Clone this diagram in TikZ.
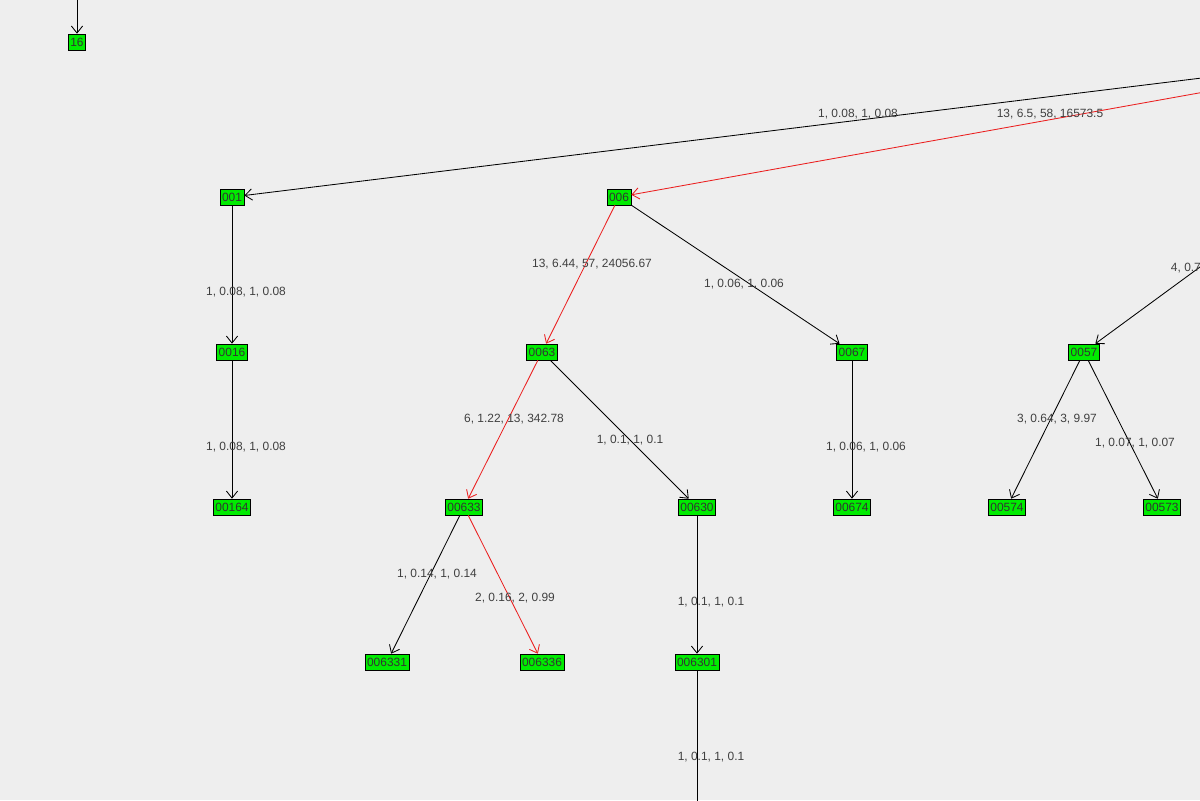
\documentclass[tikz,border=0pt]{standalone}
\usepackage{fontspec}
\setmainfont{Liberation Sans}
\usetikzlibrary{arrows.meta}
\definecolor{bgcol}{RGB}{238,238,238}
\definecolor{nodegreen}{RGB}{0,235,0}
\definecolor{pathred}{RGB}{235,30,30}
\tikzset{
    leaf/.style={draw=black, fill=nodegreen, inner xsep=1.5pt, inner ysep=1pt, minimum height=16*0.025cm, font=\fontsize{8.5}{9}\selectfont, text=black!80},
    edge/.style={-{Straight Barb[length=5pt, width=8pt]}, line width=0.6pt},
    hot/.style={edge, draw=pathred},
    weight/.style={font=\fontsize{8.5}{9}\selectfont, text=black!75}
}
\begin{document}
\begin{tikzpicture}[x=0.025cm, y=-0.025cm]

    \fill[bgcol] (0, 0) rectangle (1200, 800);
    \useasboundingbox (0, 0) rectangle (1200, 800);
    \clip (0, 0) rectangle (1200, 800);

    % nodes
    \node[leaf] (n16) at (77, 42) {16};
    \node[leaf] (n001) at (232, 197) {001};
    \node[leaf] (n006) at (619, 197) {006};
    \node[leaf] (n0016) at (232, 352) {0016};
    \node[leaf] (n0063) at (542, 352) {0063};
    \node[leaf] (n0067) at (852, 352) {0067};
    \node[leaf] (n0057) at (1084, 352) {0057};
    \node[leaf] (n00164) at (232, 507) {00164};
    \node[leaf] (n00633) at (464, 507) {00633};
    \node[leaf] (n00630) at (697, 507) {00630};
    \node[leaf] (n00674) at (852, 507) {00674};
    \node[leaf] (n00574) at (1007, 507) {00574};
    \node[leaf] (n00573) at (1162, 507) {00573};
    \node[leaf] (n006331) at (387, 662) {006331};
    \node[leaf] (n006336) at (542, 662) {006336};
    \node[leaf] (n006301) at (697, 662) {006301};

    \coordinate (top16) at (77, -5);
    \coordinate (rootA) at (1210, 77);
    \coordinate (rootB) at (1210, 91);
    \coordinate (rootC) at (1230, 245);
    \coordinate (below) at (697, 805);

    % edges
    \draw[edge] (top16) -- (n16);
    \draw[edge] (rootA) -- (n001);
    \draw[hot] (rootB) -- (n006);
    \draw[edge] (rootC) -- (n0057);
    \draw[edge] (n001) -- (n0016);
    \draw[hot] (n006) -- (n0063);
    \draw[edge] (n006) -- (n0067);
    \draw[edge] (n0016) -- (n00164);
    \draw[hot] (n0063) -- (n00633);
    \draw[edge] (n0063) -- (n00630);
    \draw[edge] (n0067) -- (n00674);
    \draw[edge] (n0057) -- (n00574);
    \draw[edge] (n0057) -- (n00573);
    \draw[edge] (n00633) -- (n006331);
    \draw[hot] (n00633) -- (n006336);
    \draw[edge] (n00630) -- (n006301);
    \draw[line width=0.6pt] (n006301) -- (below);

    % weights
    \node[weight] at (858, 114) {1, 0.08, 1, 0.08};
    \node[weight] at (1050, 114) {13, 6.5, 58, 16573.5};
    \node[weight, anchor=west] at (1166, 268) {4, 0.78};
    \node[weight] at (246, 292) {1, 0.08, 1, 0.08};
    \node[weight] at (592, 264) {13, 6.44, 57, 24056.67};
    \node[weight] at (744, 284) {1, 0.06, 1, 0.06};
    \node[weight] at (246, 447) {1, 0.08, 1, 0.08};
    \node[weight] at (514, 419) {6, 1.22, 13, 342.78};
    \node[weight] at (630, 440) {1, 0.1, 1, 0.1};
    \node[weight] at (866, 447) {1, 0.06, 1, 0.06};
    \node[weight] at (1057, 419) {3, 0.64, 3, 9.97};
    \node[weight] at (1135, 443) {1, 0.07, 1, 0.07};
    \node[weight] at (437, 574) {1, 0.14, 1, 0.14};
    \node[weight] at (515, 598) {2, 0.16, 2, 0.99};
    \node[weight] at (711, 602) {1, 0.1, 1, 0.1};
    \node[weight] at (711, 757) {1, 0.1, 1, 0.1};

\end{tikzpicture}
\end{document}
